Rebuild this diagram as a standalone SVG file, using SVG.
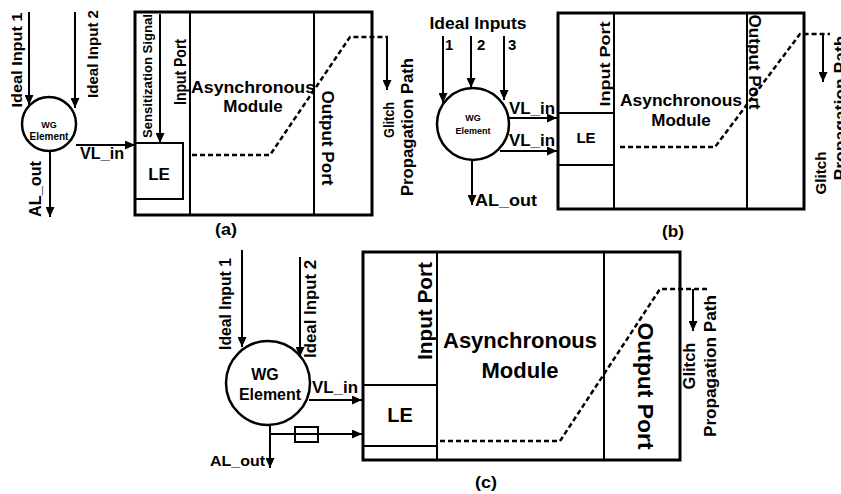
<svg xmlns="http://www.w3.org/2000/svg" width="841" height="494" viewBox="0 0 841 494">
<style>
  text { font-family: "Liberation Sans", Arial, sans-serif; font-weight: bold; fill: #000; }
  .mid { text-anchor: middle; }
  .box { fill: none; stroke: #000; stroke-width: 3; }
  .div { fill: none; stroke: #000; stroke-width: 2; }
  .arr { fill: none; stroke: #000; stroke-width: 2; marker-end: url(#ah); }
  .dash { fill: none; stroke: #000; stroke-width: 2.5; stroke-dasharray: 5 3; }
  .circ { fill: #fff; stroke: #000; stroke-width: 2.5; }
  .cap { font-family: "Liberation Sans Narrow", "Liberation Sans", Arial, sans-serif; }
</style>
<defs>
  <marker id="ah" markerUnits="userSpaceOnUse" markerWidth="11" markerHeight="9" refX="10" refY="4.5" orient="auto">
    <path d="M0,0 L10,4.5 L0,9 z" fill="#000"/>
  </marker>
</defs>
<rect width="841" height="494" fill="#fff"/>

<!-- ===== (a) ===== -->
<g id="a-module">
  <rect class="box" x="135" y="12" width="237" height="203"/>
  <line class="div" x1="190" y1="12" x2="190" y2="215"/>
  <line class="div" x1="314" y1="12" x2="314" y2="215"/>
  <text class="mid" transform="translate(186,72) rotate(-90)" font-size="16" textLength="66" lengthAdjust="spacingAndGlyphs">Input Port</text>
  <text class="mid" x="253" y="93" font-size="17" textLength="124" lengthAdjust="spacingAndGlyphs">Asynchronous</text>
  <text class="mid" x="253" y="112" font-size="17">Module</text>
  <text class="mid" transform="translate(322,138) rotate(90)" font-size="17" textLength="95" lengthAdjust="spacingAndGlyphs">Output Port</text>
</g>
<g id="a-le">
  <rect class="div" x="135" y="143" width="48" height="56" stroke-width="2.5"/>
  <text class="mid" x="159" y="180" font-size="17">LE</text>
</g>
<g id="a-wg">
  <circle class="circ" cx="49" cy="124" r="27"/>
  <text class="mid" x="49" y="128" font-size="9">WG</text>
  <text class="mid" x="49" y="140" font-size="10">Element</text>
</g>
<g id="a-labels">
  <text class="mid" transform="translate(22,60) rotate(-90)" font-size="15" textLength="95" lengthAdjust="spacingAndGlyphs">Ideal Input 1</text>
  <text class="mid" transform="translate(98,54) rotate(-90)" font-size="15" textLength="88" lengthAdjust="spacingAndGlyphs">Ideal Input 2</text>
  <text transform="translate(152,76) rotate(-90)" class="mid" font-size="12" textLength="124" lengthAdjust="spacingAndGlyphs">Sensitization Signal</text>
  <text x="80" y="159" font-size="16" textLength="44" lengthAdjust="spacingAndGlyphs">VL_in</text>
  <text class="mid" transform="translate(41,189) rotate(-90)" font-size="16" textLength="56" lengthAdjust="spacingAndGlyphs">AL_out</text>
  <text class="mid" transform="translate(394,120) rotate(-90)" font-size="15" textLength="36" lengthAdjust="spacingAndGlyphs">Glitch</text>
  <text class="mid" transform="translate(413,127) rotate(-90)" font-size="16" textLength="138" lengthAdjust="spacingAndGlyphs">Propagation Path</text>
  <text class="mid cap" x="226" y="235" font-size="17" textLength="22" lengthAdjust="spacingAndGlyphs">(a)</text>
</g>
<g id="a-connectors">
  <line class="arr" x1="29" y1="12" x2="29" y2="105"/>
  <line class="arr" x1="75" y1="12" x2="75" y2="108"/>
  <line class="arr" x1="160" y1="14" x2="160" y2="143"/>
  <line class="arr" x1="76" y1="145" x2="135" y2="145"/>
  <line class="arr" x1="50" y1="151" x2="50" y2="217"/>
  <path class="dash" d="M192,155 H270 L350,37 H388"/>
  <line class="arr" x1="387" y1="38" x2="387" y2="90"/>
</g>

<!-- ===== (b) ===== -->
<g id="b-module">
  <rect class="box" x="558" y="13" width="246" height="196"/>
  <line class="div" x1="614" y1="13" x2="614" y2="209"/>
  <line class="div" x1="747" y1="13" x2="747" y2="209"/>
  <text class="mid" transform="translate(610,64) rotate(-90)" font-size="15" textLength="85" lengthAdjust="spacingAndGlyphs">Input Port</text>
  <text class="mid" x="681" y="106" font-size="17" textLength="122" lengthAdjust="spacingAndGlyphs">Asynchronous</text>
  <text class="mid" x="681" y="126" font-size="17">Module</text>
  <text class="mid" transform="translate(749,62) rotate(90)" font-size="17" textLength="95" lengthAdjust="spacingAndGlyphs">Output Port</text>
</g>
<g id="b-le">
  <line class="div" x1="558" y1="113" x2="614" y2="113"/>
  <line class="div" x1="558" y1="165" x2="614" y2="165"/>
  <text class="mid" x="586" y="143" font-size="15">LE</text>
</g>
<g id="b-wg">
  <circle class="circ" cx="473" cy="124" r="36"/>
  <text class="mid" x="473" y="121" font-size="9">WG</text>
  <text class="mid" x="473" y="134" font-size="9">Element</text>
</g>
<g id="b-labels">
  <text class="mid" x="478" y="29" font-size="16" textLength="97" lengthAdjust="spacingAndGlyphs">Ideal Inputs</text>
  <text x="445" y="50" font-size="15">1</text>
  <text x="477" y="50" font-size="15">2</text>
  <text x="508" y="50" font-size="15">3</text>
  <text x="509" y="114" font-size="16" textLength="46" lengthAdjust="spacingAndGlyphs">VL_in</text>
  <text x="509" y="146" font-size="16" textLength="46" lengthAdjust="spacingAndGlyphs">VL_in</text>
  <text x="475" y="206" font-size="16" textLength="62" lengthAdjust="spacingAndGlyphs">AL_out</text>
  <text class="mid" transform="translate(826,173) rotate(-90)" font-size="15" textLength="43" lengthAdjust="spacingAndGlyphs">Glitch</text>
  <text class="mid" transform="translate(846,108) rotate(-90)" font-size="16" textLength="145" lengthAdjust="spacingAndGlyphs">Propagation Path</text>
  <text class="mid cap" x="673" y="237" font-size="17" textLength="22" lengthAdjust="spacingAndGlyphs">(b)</text>
</g>
<g id="b-connectors">
  <line class="arr" x1="443" y1="36" x2="443" y2="103"/>
  <line class="arr" x1="471" y1="36" x2="471" y2="88"/>
  <line class="arr" x1="504" y1="36" x2="504" y2="100"/>
  <line class="arr" x1="508" y1="118" x2="557" y2="118"/>
  <line class="arr" x1="500" y1="151" x2="557" y2="151"/>
  <line class="arr" x1="472" y1="160" x2="472" y2="205"/>
  <path class="dash" d="M620,147 H715 L800,34 H830"/>
  <line class="arr" x1="823" y1="34" x2="823" y2="82"/>
</g>

<!-- ===== (c) ===== -->
<g id="c-module">
  <rect class="box" x="363" y="252" width="317" height="208"/>
  <line class="div" x1="437" y1="252" x2="437" y2="460"/>
  <line class="div" x1="604" y1="252" x2="604" y2="460"/>
  <text class="mid" transform="translate(432,311) rotate(-90)" font-size="20" textLength="98" lengthAdjust="spacingAndGlyphs">Input Port</text>
  <text class="mid" x="520" y="348" font-size="22" textLength="154" lengthAdjust="spacingAndGlyphs">Asynchronous</text>
  <text class="mid" x="520" y="378" font-size="22">Module</text>
  <text class="mid" transform="translate(638,386) rotate(90)" font-size="22" textLength="127" lengthAdjust="spacingAndGlyphs">Output Port</text>
</g>
<g id="c-le">
  <line class="div" x1="363" y1="385" x2="437" y2="385"/>
  <line class="div" x1="363" y1="446" x2="437" y2="446"/>
  <text class="mid" x="400" y="422" font-size="20">LE</text>
</g>
<g id="c-wg">
  <circle class="circ" cx="268" cy="383" r="42"/>
  <text class="mid" x="265" y="380" font-size="16">WG</text>
  <text class="mid" x="270" y="400" font-size="16">Element</text>
</g>
<g id="c-delay">
  <rect x="295" y="427" width="23" height="15" fill="#fff" stroke="#000" stroke-width="2"/>
</g>
<g id="c-labels">
  <text class="mid" transform="translate(231,304) rotate(-90)" font-size="16" textLength="92" lengthAdjust="spacingAndGlyphs">Ideal Input 1</text>
  <text class="mid" transform="translate(316,309) rotate(-90)" font-size="16" textLength="98" lengthAdjust="spacingAndGlyphs">Ideal Input 2</text>
  <text x="312" y="393" font-size="16" textLength="46" lengthAdjust="spacingAndGlyphs">VL_in</text>
  <text x="265" y="466" font-size="15" text-anchor="end" textLength="55" lengthAdjust="spacingAndGlyphs">AL_out</text>
  <text class="mid" transform="translate(695,366) rotate(-90)" font-size="16" textLength="47" lengthAdjust="spacingAndGlyphs">Glitch</text>
  <text class="mid" transform="translate(716,366) rotate(-90)" font-size="17" textLength="142" lengthAdjust="spacingAndGlyphs">Propagation Path</text>
  <text class="mid cap" x="486" y="488" font-size="17" textLength="22" lengthAdjust="spacingAndGlyphs">(c)</text>
</g>
<g id="c-connectors">
  <line class="arr" x1="242" y1="250" x2="242" y2="347"/>
  <line class="arr" x1="300" y1="257" x2="300" y2="357"/>
  <line class="arr" x1="309" y1="400" x2="362" y2="400"/>
  <line class="arr" x1="270" y1="424" x2="270" y2="468"/>
  <line class="div" x1="270" y1="434" x2="295" y2="434"/>
  <line class="arr" x1="318" y1="434" x2="362" y2="434"/>
  <line class="div" x1="295" y1="434" x2="318" y2="434"/>
  <path class="dash" d="M440,441 H560 L660,289 H707"/>
  <line class="arr" x1="693" y1="289" x2="693" y2="331"/>
</g>
</svg>
